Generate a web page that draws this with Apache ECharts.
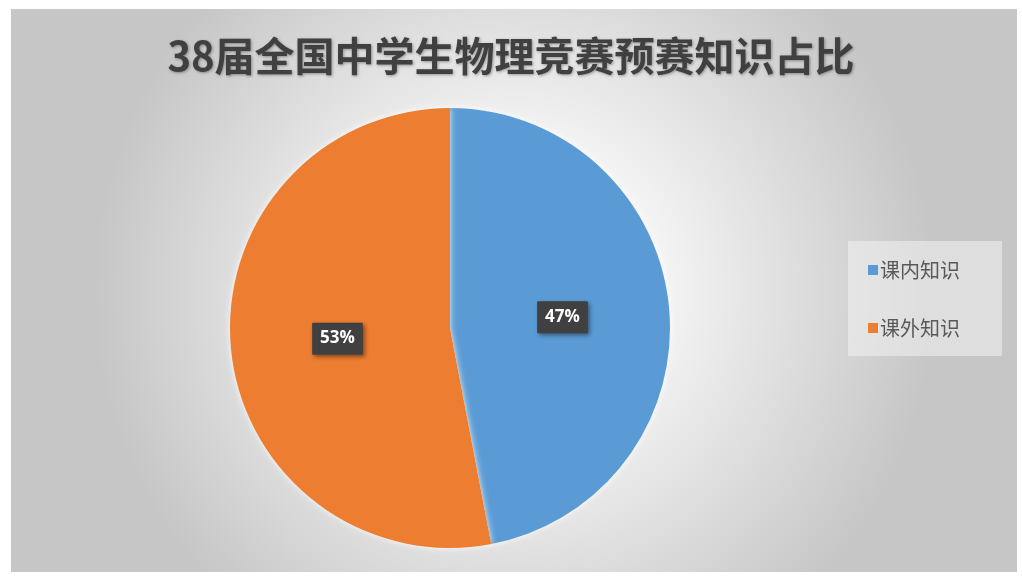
<!DOCTYPE html>
<html>
<head>
<meta charset="utf-8">
<script src="https://cdn.jsdelivr.net/npm/echarts@6/dist/echarts.min.js"></script>
<style>
  html, body { margin: 0; padding: 0; background: #ffffff; }
  #main { width: 1022px; height: 580px; }
</style>
</head>
<body>
<div id="main"></div>
<script>
var titleText = '38届全国中学生物理竞赛预赛知识占比';
var categories = ['课内知识', '课外知识'];
var values = [47, 53];
var colors = ['#5b9bd5', '#ed7d31'];

var pieData = categories.map(function (name, i) {
  return { name: name, value: values[i], itemStyle: { color: colors[i] } };
});

var chart = echarts.init(document.getElementById('main'));

chart.setOption({
  animation: false,
  graphic: [{
    type: 'rect',
    z: -10,
    silent: true,
    shape: { x: 11, y: 9, width: 1006, height: 563 },
    style: {
      fill: {
        type: 'radial',
        x: 0.5, y: 0.5, r: 0.75,
        colorStops: [
          { offset: 0, color: '#ffffff' },
          { offset: 0.35, color: '#f4f4f4' },
          { offset: 1, color: '#c6c6c6' }
        ]
      }
    }
  }],
  title: {
    text: titleText,
    left: 'center',
    top: 31,
    textStyle: {
      fontFamily: 'Noto Sans CJK SC',
      fontSize: 40,
      fontWeight: 'bold',
      color: '#404040',
      textShadowColor: 'rgba(0,0,0,0.35)',
      textShadowBlur: 3,
      textShadowOffsetX: 1,
      textShadowOffsetY: 1
    }
  },
  legend: {
    orient: 'vertical',
    left: 848,
    top: 241,
    data: categories,
    icon: 'rect',
    itemWidth: 10,
    itemHeight: 10,
    itemGap: 38,
    padding: [19, 42, 18, 20],
    backgroundColor: 'rgba(245,245,245,0.5)',
    textStyle: {
      fontFamily: 'Noto Sans CJK SC',
      fontSize: 20,
      color: '#595959',
      padding: [0, 0, 0, -3]
    }
  },
  series: [{
    type: 'pie',
    center: [450, 328],
    radius: [0, 220],
    startAngle: 90,
    clockwise: true,
    data: pieData,
    itemStyle: {
      shadowColor: 'rgba(255,255,255,0.9)',
      shadowBlur: 6
    },
    label: {
      position: 'inside',
      formatter: '{d}%',
      fontFamily: 'Open Sans',
      fontSize: 17,
      fontWeight: 'bold',
      color: '#ffffff',
      backgroundColor: '#404040',
      padding: [8, 8, 7, 8],
      borderRadius: 1,
      shadowColor: 'rgba(0,0,0,0.45)',
      shadowBlur: 4,
      shadowOffsetX: 2,
      shadowOffsetY: 2
    },
    labelLine: { show: false },
    emphasis: { disabled: true }
  }]
});
</script>
</body>
</html>
